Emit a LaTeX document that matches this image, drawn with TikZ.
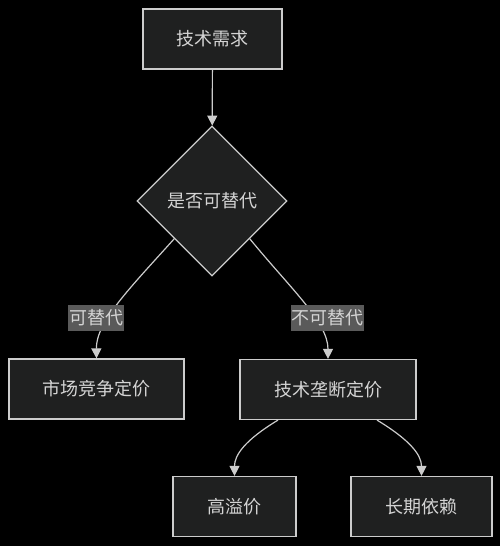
\documentclass[tikz,border=0pt]{standalone}
\usepackage{fontspec}
\usepackage{tikz}
\usetikzlibrary{shapes.geometric,arrows.meta}
\setmainfont{Noto Sans CJK SC}
\definecolor{nodefill}{HTML}{1F2020}
\definecolor{linegray}{HTML}{CCCCCC}
\definecolor{textgray}{HTML}{D4D4D4}
\definecolor{labelgray}{HTML}{5A5A5A}
\tikzset{
  box/.style={draw=linegray, fill=nodefill, line width=0.9pt, text=textgray,
    minimum height=45pt, inner sep=0pt, font=\fontsize{13.5pt}{16pt}\selectfont},
  decision/.style={box, diamond, aspect=1, minimum width=112.5pt, minimum height=112.5pt},
  edgelabel/.style={fill=labelgray, text=textgray, inner xsep=0.5pt, inner ysep=0pt,
    minimum height=19.5pt, font=\fontsize{13.5pt}{16pt}\selectfont},
  flow/.style={draw=linegray, line width=0.9pt, -{Triangle[length=7.5pt, width=7.5pt]}}
}
\begin{document}
\begin{tikzpicture}[x=0.75pt, y=-0.75pt]
\fill[black] (0,0) rectangle (500,546);
\useasboundingbox (0,0) rectangle (500,546);

% nodes
\node[box, minimum width=104.25pt] (need) at (212.5,39) {技术需求};
\node[decision] (dec) at (212,201) {是否可替代};
\node[box, minimum width=131.25pt] (comp) at (96.5,389) {市场竞争定价};
\node[box, minimum width=132pt] (mono) at (328,389.5) {技术垄断定价};
\node[box, minimum width=92.25pt] (prem) at (234.5,506.5) {高溢价};
\node[box, minimum width=105.75pt] (dep) at (421.5,506.5) {长期依赖};

% connectors
\draw[flow] (need) -- (dec);
\draw[flow] (dec.-135) .. controls (130,288) and (96,322) .. (comp.north);
\draw[flow] (dec.-45) .. controls (290,288) and (328,322) .. (mono.north);
\draw[flow] (mono.south -| 278,0) .. controls (245,440) and (234.5,455) .. (prem.north);
\draw[flow] (mono.south -| 377,0) .. controls (410,440) and (421.5,455) .. (dep.north);

% labels
\node[edgelabel] (yes) at (96,318) {可替代};
\node[edgelabel] (no) at (327.5,318) {不可替代};
\end{tikzpicture}
\end{document}
